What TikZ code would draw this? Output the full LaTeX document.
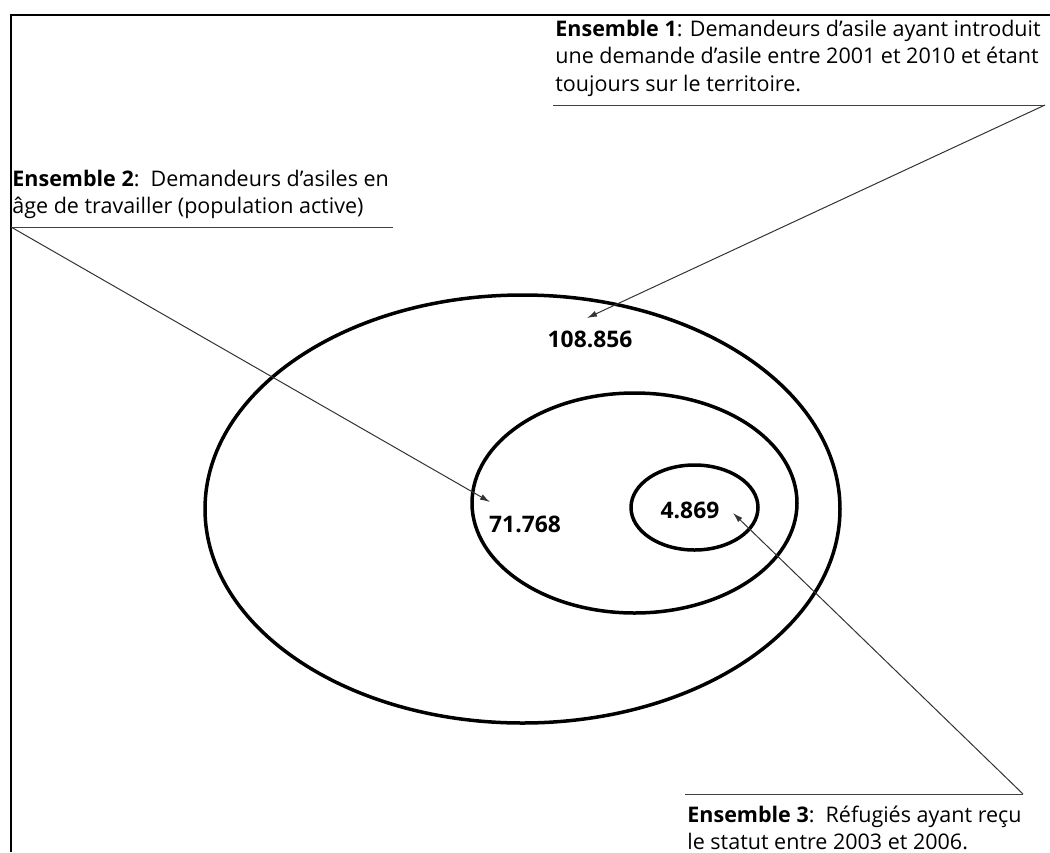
\documentclass[tikz,border=0pt]{standalone}
\usepackage{fontspec}
\setmainfont{Open Sans}
\usetikzlibrary{arrows.meta}
\begin{document}
\begin{tikzpicture}[x=0.5pt,y=-0.5pt,
  ell/.style={line width=1.75pt},
  lbl/.style={anchor=base west,inner sep=0pt,font=\fontsize{10.75}{12}\selectfont},
  num/.style={inner sep=0pt,font=\fontsize{11.4}{13}\selectfont\bfseries},
  rule/.style={line width=0.5pt,black!75},
  pointer/.style={line width=0.5pt,black!80,-{Latex[length=5pt,width=3pt]}},
  frame/.style={line width=1pt}]
\useasboundingbox (0,0) rectangle (1050,852);
\draw[frame] (11,852) -- (11,15) -- (1050,15);
% ellipses
\draw[ell] (522.5,509) ellipse [x radius=317.5, y radius=214];
\draw[ell] (634.5,503) ellipse [x radius=162.5, y radius=110];
\draw[ell] (694.5,507.5) ellipse [x radius=63.5, y radius=42.5];
% numbers
\node[num] (n1) at (590,339) {108.856};
\node[num] (n2) at (525,524) {71.768};
\node[num] (n3) at (690,510) {4.869};
% label 1
\node[lbl] (l1a) at (555,36.7) {\textbf{Ensemble 1}: Demandeurs d’asile ayant introduit};
\node[lbl] (l1b) at (555,63.5) {une demande d’asile entre 2001 et 2010 et étant};
\node[lbl] (l1c) at (555,91.5) {toujours sur le territoire.};
% label 2
\node[lbl] (l2a) at (12,186) {\textbf{Ensemble 2}:\ \ Demandeurs d’asiles en};
\node[lbl] (l2b) at (12,213.3) {âge de travailler (population active)};
% label 3
\node[lbl] (l3a) at (687,822) {\textbf{Ensemble 3}:\ \ Réfugiés ayant reçu};
\node[lbl] (l3b) at (687,849.5) {le statut entre 2003 et 2006.};
% underlines and pointers
\coordinate (u1s) at (553,105);
\coordinate (u1e) at (1045,105);
\coordinate (u2s) at (11,227);
\coordinate (u2e) at (393,227);
\coordinate (u3s) at (685,794);
\coordinate (u3e) at (1023,794);
\coordinate (t1) at (587,318);
\coordinate (t2) at (490,502);
\coordinate (t3) at (733,513);
\draw[rule] (u1s) -- (u1e);
\draw[rule] (u2s) -- (u2e);
\draw[rule] (u3s) -- (u3e);
\draw[pointer] (u1e) -- (t1);
\draw[pointer] (u2s) -- (t2);
\draw[pointer] (u3e) -- (t3);
\end{tikzpicture}
\end{document}
